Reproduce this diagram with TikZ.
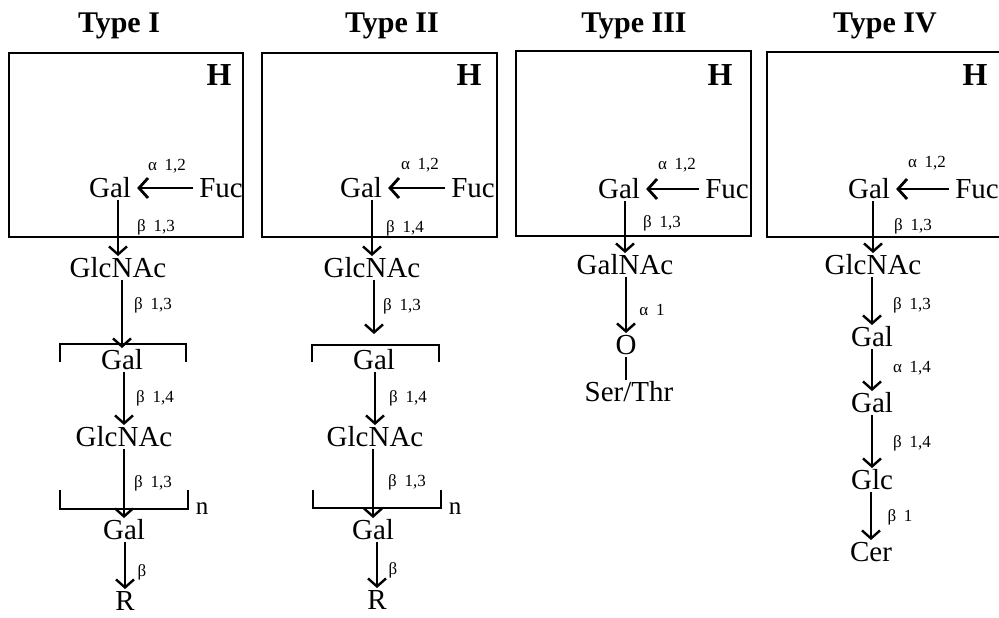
\documentclass[tikz,border=0pt]{standalone}
\usepackage{fontspec}
\setmainfont{Liberation Serif}
\usetikzlibrary{arrows.meta}
% gap between the anomeric letter and the positions of a linkage
\newcommand{\lk}[2]{#1\hspace{0.45em}#2}
\begin{document}
\begin{tikzpicture}[x=1pt,y=-1pt,
  sugar/.style={font=\fontsize{29}{31}\selectfont, inner sep=2pt, text height=19.5pt, text depth=0pt},
  link/.style={font=\fontsize{17}{18}\selectfont, inner sep=0pt},
  heading/.style={font=\fontsize{30}{32}\selectfont\bfseries, anchor=base, inner sep=0pt},
  hmark/.style={font=\fontsize{32}{33}\selectfont\bfseries, anchor=base, inner sep=0pt},
  frame/.style={draw, line width=2.2pt},
  bond/.style={line width=2.4pt, -{Straight Barb[length=8pt,width=18pt]}},
  fucbond/.style={line width=2.8pt, -{Straight Barb[length=9pt,width=20pt]}, shorten >=4pt, shorten <=4pt},
  plain/.style={line width=2.4pt},
  brk/.style={line width=2.3pt, line join=miter}
]
\useasboundingbox[fill=white] (0,0) rectangle (999,618);

% ---------------- Type I ----------------
\node[heading] (t1) at (119,33) {Type I};
\draw[frame] (9,53) rectangle (243,237);
\node[hmark] (h1) at (219,85) {H};
\node[sugar] (a1gal) at (110,188) {Gal};
\node[sugar] (a1fuc) at (221,188) {Fuc};
\node[sugar] (a1glcnac) at (118,268) {GlcNAc};
\node[sugar] (a1gal2) at (122,360) {Gal};
\node[sugar] (a1glcnac2) at (124,437) {GlcNAc};
\node[sugar] (a1gal3) at (124,530) {Gal};
\node[sugar] (a1r) at (125,601) {R};
\draw[fucbond] (a1fuc) -- (a1gal);
\draw[bond] (a1gal.south -| a1glcnac) -- (a1glcnac.north);
\draw[bond] (a1glcnac.south -| a1gal2) -- (a1gal2.north);
\draw[bond] (a1gal2.south -| a1glcnac2) -- (a1glcnac2.north);
\draw[bond] (a1glcnac2.south -| a1gal3) -- (a1gal3.north);
\draw[bond] (a1gal3.south -| a1r) -- (a1r.north);
\node[link] (a1l1) at (167,166) {\lk{α}{1,2}};
\node[link] (a1l2) at (156,227) {\lk{β}{1,3}};
\node[link] (a1l3) at (153,305) {\lk{β}{1,3}};
\node[link] (a1l4) at (155,398) {\lk{β}{1,4}};
\node[link] (a1l5) at (153,483) {\lk{β}{1,3}};
\node[link] (a1l6) at (142,572) {β};
\draw[brk] (60,362) -- (60,344) -- (186,344) -- (186,362);
\draw[brk] (60,490) -- (60,509) -- (188,509) -- (188,490);
\node[sugar, font=\fontsize{25}{27}\selectfont] (a1n) at (202,505) {n};

% ---------------- Type II ----------------
\node[heading] (t2) at (392,33) {Type II};
\draw[frame] (262,53) rectangle (497,237);
\node[hmark] (h2) at (469,85) {H};
\node[sugar] (a2gal) at (361,188) {Gal};
\node[sugar] (a2fuc) at (473,188) {Fuc};
\node[sugar] (a2glcnac) at (372,268) {GlcNAc};
\node[sugar] (a2gal2) at (374,360) {Gal};
\node[sugar] (a2glcnac2) at (375,437) {GlcNAc};
\node[sugar] (a2gal3) at (373,530) {Gal};
\node[sugar] (a2r) at (377,600) {R};
\draw[fucbond] (a2fuc) -- (a2gal);
\draw[bond] (a2gal.south -| a2glcnac) -- (a2glcnac.north);
\draw[bond] (a2glcnac.south -| a2gal2) -- ([yshift=14pt]a2gal2.north);
\draw[bond] (a2gal2.south -| a2glcnac2) -- (a2glcnac2.north);
\draw[bond] (a2glcnac2.south -| a2gal3) -- (a2gal3.north);
\draw[bond] (a2gal3.south -| a2r) -- (a2r.north);
\node[link] (a2l1) at (420,165) {\lk{α}{1,2}};
\node[link] (a2l2) at (405,228) {\lk{β}{1,4}};
\node[link] (a2l3) at (402,306) {\lk{β}{1,3}};
\node[link] (a2l4) at (408,398) {\lk{β}{1,4}};
\node[link] (a2l5) at (407,482) {\lk{β}{1,3}};
\node[link] (a2l6) at (393,570) {β};
\draw[brk] (312,362) -- (312,345) -- (439,345) -- (439,362);
\draw[brk] (313,490) -- (313,508) -- (441,508) -- (441,490);
\node[sugar, font=\fontsize{25}{27}\selectfont] (a2n) at (455,505) {n};

% ---------------- Type III ----------------
\node[heading] (t3) at (634,33) {Type III};
\draw[frame] (516,51) rectangle (751,236);
\node[hmark] (h3) at (720,85) {H};
\node[sugar] (a3gal) at (619,189) {Gal};
\node[sugar] (a3fuc) at (727,189) {Fuc};
\node[sugar] (a3galnac) at (625,265) {GalNAc};
\node[sugar] (a3o) at (626,345) {O};
\node[sugar] (a3ser) at (629,392) {Ser/Thr};
\draw[fucbond] (a3fuc) -- (a3gal);
\draw[bond] (a3gal.south -| a3galnac) -- (a3galnac.north);
\draw[bond] (a3galnac.south -| a3o) -- (a3o.north);
\draw[plain] (a3o.south) -- (a3ser.north -| a3o);
\node[link] (a3l1) at (677,165) {\lk{α}{1,2}};
\node[link] (a3l2) at (662,223) {\lk{β}{1,3}};
\node[link] (a3l3) at (652,310) {\lk{α}{1}};

% ---------------- Type IV ----------------
\node[heading] (t4) at (885,33) {Type IV};
\draw[frame] (767,52) rectangle (1012,237);
\node[hmark] (h4) at (975,85) {H};
\node[sugar] (a4gal) at (869,189) {Gal};
\node[sugar] (a4fuc) at (977,189) {Fuc};
\node[sugar] (a4glcnac) at (873,265) {GlcNAc};
\node[sugar] (a4gal2) at (872,337) {Gal};
\node[sugar] (a4gal3) at (872,403) {Gal};
\node[sugar] (a4glc) at (872,480) {Glc};
\node[sugar] (a4cer) at (871,552) {Cer};
\draw[fucbond] (a4fuc) -- (a4gal);
\draw[bond] (a4gal.south -| a4glcnac) -- (a4glcnac.north);
\draw[bond] (a4glcnac.south -| a4gal2) -- (a4gal2.north);
\draw[bond] (a4gal2.south -| a4gal3) -- (a4gal3.north);
\draw[bond] (a4gal3.south -| a4glc) -- (a4glc.north);
\draw[bond] (a4glc.south -| a4cer) -- (a4cer.north);
\node[link] (a4l1) at (927,163) {\lk{α}{1,2}};
\node[link] (a4l2) at (913,226) {\lk{β}{1,3}};
\node[link] (a4l3) at (912,305) {\lk{β}{1,3}};
\node[link] (a4l4) at (912,368) {\lk{α}{1,4}};
\node[link] (a4l5) at (912,443) {\lk{β}{1,4}};
\node[link] (a4l6) at (900,517) {\lk{β}{1}};
\end{tikzpicture}
\end{document}
